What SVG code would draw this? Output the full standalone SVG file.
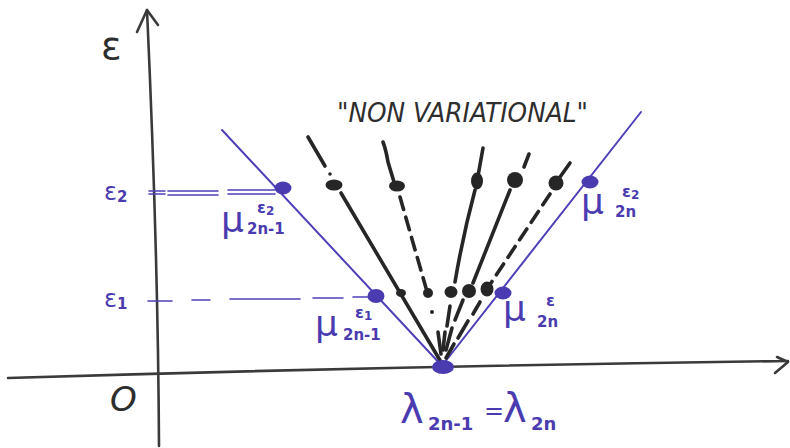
<svg xmlns="http://www.w3.org/2000/svg" width="790" height="448" viewBox="0 0 790 448">
<defs>
<style>
.axis{fill:none;stroke:#3a3a3a;stroke-width:2.6;stroke-linecap:round;stroke-linejoin:round}
.pl{fill:none;stroke:#4d40b8;stroke-width:2;stroke-linecap:round}
.pd{fill:none;stroke:#4d40b8;stroke-width:1.6;stroke-linecap:round}
.pdot{fill:#4a3cb0}
.bl{fill:none;stroke:#262626;stroke-width:3.6;stroke-linecap:round}
.bd{fill:none;stroke:#262626;stroke-width:3.6;stroke-linecap:round;stroke-dasharray:13 8}
.bdot{fill:#262626}
.pt{fill:#4a3cb0;font-family:"DejaVu Sans",sans-serif}
.mu{font-size:36px}
.sub{font-size:15px;font-weight:bold}
.sup{font-size:16px;font-weight:bold}
.bt{fill:#2e2e2e;font-family:"DejaVu Sans","Liberation Sans",sans-serif}
</style>
</defs>
<rect width="790" height="448" fill="#ffffff"/>

<g id="axes">
<path class="axis" d="M147,10 Q158,250 159,446"/>
<path class="axis" d="M137,32 L147,10 L158,25"/>
<path class="axis" d="M8,378 Q400,366 788,361"/>
<path class="axis" d="M777,357 L788,362 L775,373"/>
<text class="bt" x="101" y="59" font-size="38" font-family="Liberation Sans, sans-serif">ε</text>
<text class="bt" x="110" y="411" font-size="34" font-style="italic" font-family="Liberation Sans, sans-serif">O</text>
</g>

<g id="connectors">
<line class="pl" x1="222" y1="130" x2="443" y2="367"/>
<line class="pl" x1="441" y1="367" x2="641" y2="112"/>
<path class="pd" d="M149,191 H165 M168,191 H218 M228,190 H275 M149,194 H165 M168,195 H218 M228,194 H275"/>
<path class="pd" d="M148,301 H172 M192,300 H210 M230,299 H300 M313,298 H343 M353,297 H370" stroke-width="2"/>
<line class="bl" x1="308" y1="137" x2="325" y2="166"/>
<line class="bl" x1="341" y1="193" x2="441" y2="362"/>
<path class="bl" d="M383,142 Q386,150 388,162 Q391,172 394,182"/>
<line class="bd" x1="400" y1="197" x2="426" y2="288"/>
<line class="bl" x1="438" y1="332" x2="441" y2="354"/>
<line class="bl" x1="483" y1="148" x2="478" y2="176"/>
<path class="bl" d="M475,190 Q463,235 455,282"/>
<path class="bl" d="M450,306 L447,326 M445,332 L443,350"/>
<line class="bl" x1="529" y1="154" x2="524" y2="167"/>
<line class="bl" x1="510" y1="190" x2="473" y2="283"/>
<path class="bl" d="M463,300 L455,320 M452,328 L446,350"/>
<line class="bl" x1="570" y1="163" x2="560" y2="177"/>
<line class="bd" x1="550" y1="194" x2="491" y2="283"/>
<path class="bl" d="M480,302 L473,314 M468,321 L458,338 M454,344 L446,358"/>
</g>

<g id="black-points">
<circle class="bdot" cx="330" cy="174" r="1.8"/>
<ellipse class="bdot" cx="334" cy="185" rx="8.5" ry="5.5"/>
<ellipse class="bdot" cx="401" cy="293" rx="5" ry="4"/>
<ellipse class="bdot" cx="397" cy="186" rx="8" ry="5.5"/>
<ellipse class="bdot" cx="428" cy="293" rx="5" ry="5"/>
<circle class="bdot" cx="432" cy="312" r="2"/>
<ellipse class="bdot" cx="477" cy="181" rx="6" ry="8.5"/>
<ellipse class="bdot" cx="451" cy="292" rx="6.5" ry="6"/>
<ellipse class="bdot" cx="515" cy="180" rx="8" ry="8"/>
<ellipse class="bdot" cx="469" cy="291" rx="7" ry="7"/>
<ellipse class="bdot" cx="556" cy="183" rx="7.5" ry="7.5"/>
<ellipse class="bdot" cx="487" cy="289" rx="6.5" ry="7.5"/>
</g>

<g id="center">
<ellipse class="pdot" cx="443" cy="367" rx="11" ry="7"/>
</g>

<g id="mu-left-e2">
<ellipse class="pdot" cx="283" cy="188" rx="8.5" ry="6.5"/>
<text class="pt mu" x="221" y="232">μ</text>
<text class="pt sup" x="257" y="213">ε<tspan font-size="12" dy="2">2</tspan></text>
<text class="pt sub" x="247" y="234">2n-1</text>
</g>

<g id="mu-left-e1">
<ellipse class="pdot" cx="376" cy="296" rx="8.5" ry="7"/>
<text class="pt mu" x="315" y="336">μ</text>
<text class="pt sup" x="355" y="318">ε<tspan font-size="12" dy="2">1</tspan></text>
<text class="pt sub" x="343" y="340">2n-1</text>
</g>

<g id="mu-right-e2">
<ellipse class="pdot" cx="590" cy="182" rx="8.5" ry="6.5"/>
<text class="pt mu" x="581" y="214">μ</text>
<text class="pt sup" x="622" y="197">ε<tspan font-size="12" dy="2">2</tspan></text>
<text class="pt sub" x="615" y="217">2n</text>
</g>

<g id="mu-right-e">
<ellipse class="pdot" cx="503" cy="293" rx="8.5" ry="6.5"/>
<text class="pt mu" x="503" y="321">μ</text>
<text class="pt sup" x="546" y="306">ε</text>
<text class="pt sub" x="537" y="327">2n</text>
</g>

<g id="level-labels">
<text class="pt" x="104" y="200" font-size="24">ε<tspan font-size="15" font-weight="bold" dy="2">2</tspan></text>
<text class="pt" x="104" y="307" font-size="24">ε<tspan font-size="15" font-weight="bold" dy="2">1</tspan></text>
</g>

<g id="lambda-label">
<text class="pt" x="400" y="423" font-size="40">λ</text>
<text class="pt" x="428" y="430" font-size="18" font-weight="bold">2n-1</text>
<text class="pt" x="484" y="419" font-size="24">=</text>
<text class="pt" x="503" y="422" font-size="40">λ</text>
<text class="pt" x="531" y="430" font-size="18" font-weight="bold">2n</text>
</g>

<g id="title">
<text class="bt" x="337" y="122" font-size="26" font-style="italic" font-family="Liberation Sans, sans-serif" textLength="251" lengthAdjust="spacingAndGlyphs">"NON VARIATIONAL"</text>
</g>
</svg>
